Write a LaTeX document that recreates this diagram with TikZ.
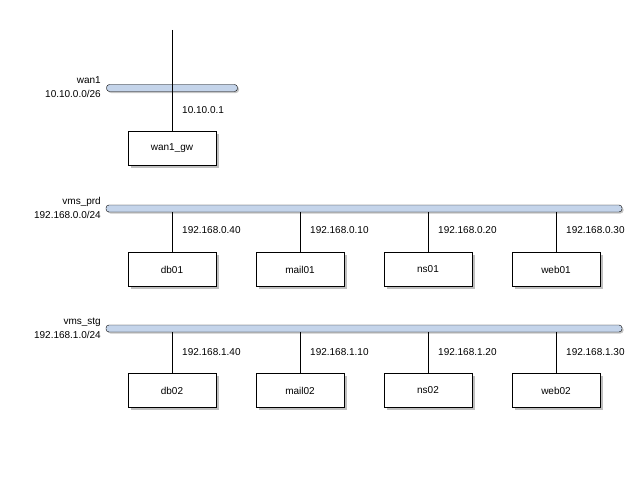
\documentclass[tikz,border=0pt]{standalone}
\usepackage{fontspec}
\setmainfont{Liberation Sans}
\usetikzlibrary{shadows}

\tikzset{
  netbar/.style={draw,fill={rgb,255:red,196;green,212;blue,234},rounded corners=3pt,minimum height=7pt,inner sep=0pt,drop shadow={shadow xshift=1.5pt,shadow yshift=-1.5pt,fill=gray!90}},
  hostbox/.style={draw,fill=white,minimum width=88pt,minimum height=34pt,inner sep=0pt,drop shadow={shadow xshift=2.5pt,shadow yshift=-2.5pt,fill=gray}},
  addr/.style={anchor=west,inner sep=0pt},
  netlabel/.style={anchor=east,align=right,inner sep=0pt}
}

\begin{document}
\begin{tikzpicture}[x=1pt,y=-1pt,font=\fontsize{10}{14}\selectfont]
  \useasboundingbox (0,0) rectangle (640,495);
  %wan1
  \node[netbar,minimum width=131pt] (wan1) at (172,88) {};
  \node[netlabel] (wan1-lbl) at (101,87) {wan1\\10.10.0.0/26};
  \coordinate (uplink) at (172,30);
  \node[hostbox] (wan1_gw) at (172,148) {wan1\_gw};
  \draw (uplink) -- (wan1_gw);
  \node[addr] (wan1_gw-ip) at (182,110) {10.10.0.1};
  %vms_prd
  \node[netbar,minimum width=516pt] (prd) at (364,208.5) {};
  \node[netlabel] (prd-lbl) at (101,208) {vms\_prd\\192.168.0.0/24};
  \foreach \h/\x/\ip in {db01/172/40,mail01/300/10,ns01/428/20,web01/556/30}{
    \node[hostbox] (\h) at (\x,269.5) {\h};
    \draw (\h) -- (\h |- prd.south);
    \node[addr] (\h-ip) at (\x+10,230) {192.168.0.\ip};
  }
  %vms_stg
  \node[netbar,minimum width=516pt] (stg) at (364,328.5) {};
  \node[netlabel] (stg-lbl) at (101,328) {vms\_stg\\192.168.1.0/24};
  \foreach \h/\x/\ip in {db02/172/40,mail02/300/10,ns02/428/20,web02/556/30}{
    \node[hostbox] (\h) at (\x,390.5) {\h};
    \draw (\h) -- (\h |- stg.south);
    \node[addr] (\h-ip) at (\x+10,352) {192.168.1.\ip};
  }
\end{tikzpicture}
\end{document}
